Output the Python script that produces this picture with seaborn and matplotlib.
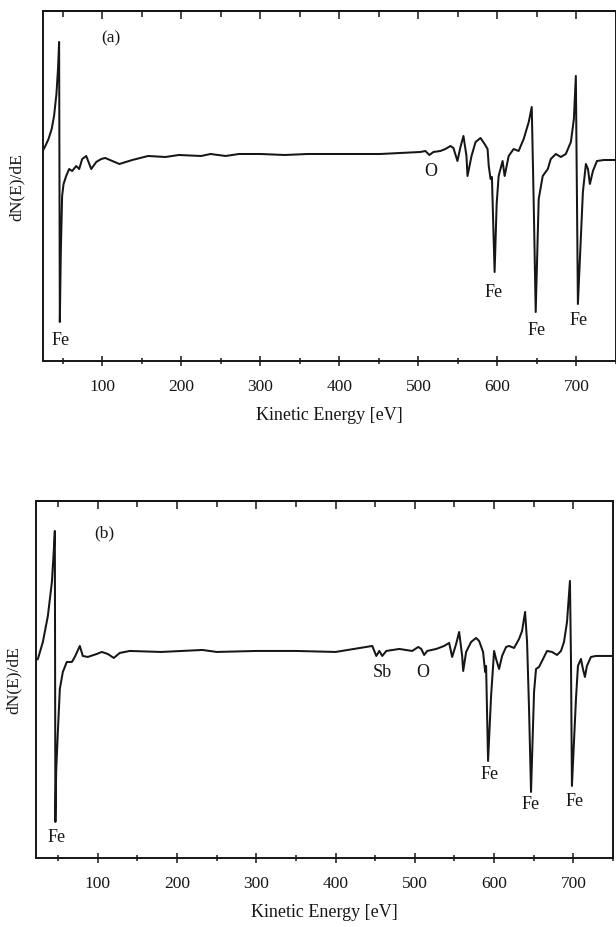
import numpy as np
import pandas as pd
import matplotlib
matplotlib.use('Agg')
import matplotlib.pyplot as plt
import seaborn as sns

# Auger spectrum (a): kinetic energy [eV] and dN(E)/dE (arbitrary units)
energy_a = [24, 28, 32, 36, 39, 42, 44, 45.4, 46.3, 47.5, 49.2, 51, 54.3, 58.1, 61.9,
            67, 70.8, 74.6, 79.7, 86, 92.4, 98.7, 103.8, 121.6, 138, 158, 180, 197,
            225, 237, 256, 273, 300, 331, 360, 400, 451.7, 477, 502.4, 508.8, 513.9,
            519, 527.8, 534.2, 540.5, 544.3, 549.4, 553.2, 557, 560.8, 562.1, 567.2,
            572.3, 578.6, 583.7, 587.5, 589, 591.3, 593, 596.4, 599, 601.5, 606.5,
            609.1, 614.2, 620.5, 626.8, 633.2, 639.6, 643.4, 645.9, 648.4, 652.2,
            657.3, 663.7, 667.5, 673.8, 680.2, 686.5, 692.9, 696.7, 699.2, 701.8,
            708.1, 711.9, 714.5, 717, 720.8, 725.9, 734.8, 750]
signal_a = [0.2, 0.8, 1.5, 2.5, 3.8, 6.0, 8.5, 11.2, -16.8, -10.0, -4.2, -3.0, -2.2, -1.5, -1.7,
            -1.2, -1.5, -0.5, -0.2, -1.5, -0.8, -0.5, -0.4, -1.0, -0.6, -0.2, -0.3, -0.1,
            -0.2, 0.0, -0.2, 0.0, 0.0, -0.1, 0.0, 0.0, 0.0, 0.1, 0.2, 0.3, -0.1,
            0.2, 0.3, 0.5, 0.8, 0.6, -0.7, 0.7, 1.8, -0.2, -2.2, -0.2,
            1.2, 1.6, 1.0, 0.5, -1.2, -2.5, -2.3, -11.8, -5.0, -2.2, -0.7,
            -2.2, -0.2, 0.5, 0.3, 1.5, 3.2, 4.7, -5.0, -15.8, -4.5,
            -2.2, -1.5, -0.5, 0.0, -0.3, 0.0, 1.2, 3.5, 7.8, -15.0,
            -3.8, -1.0, -1.5, -3.0, -1.7, -0.7, -0.6, -0.6]

# Auger spectrum (b)
energy_b = [22, 24.4, 30.7, 37.0, 42.1, 44.6, 45.8, 46.5, 47.5, 49.6, 52.1, 55.9, 60.9,
            67.3, 71.0, 77.3, 81.1, 87.4, 98.7, 105, 112.6, 120.2, 127.7, 140.3, 180,
            232, 250, 300, 350, 400, 446.3, 451.4, 455.2, 458.9, 464, 480.4, 496.7,
            504.3, 508.1, 511.8, 515.6, 527, 537, 543.3, 547.1, 552.1, 555.9, 559.7,
            561, 564.7, 571, 577.3, 581.1, 586.1, 588.7, 589.9, 592.4, 596.2, 600,
            602.5, 606.3, 610.1, 615.1, 618.9, 625.2, 631.5, 635.3, 639.1, 641.6,
            644.1, 646.6, 650.4, 652.9, 656.7, 660.5, 666.8, 673.1, 679.4, 684.4,
            688.2, 692, 695.7, 697, 698.2, 703.3, 705.8, 709.6, 712.1, 714.6, 717.1,
            722.2, 728.5, 750]
signal_b = [-0.9, -0.8, 0.9, 3.5, 6.9, 10.2, 12.0, -17.1, -12.0, -8.1, -3.8, -2.1, -1.1,
            -1.1, -0.6, 0.5, -0.5, -0.6, -0.3, -0.1, -0.3, -0.7, -0.2, 0.0, -0.1,
            0.1, -0.1, 0.0, 0.0, -0.1, 0.5, -0.5, 0.0, -0.5, 0.0, 0.2, 0.0,
            0.4, 0.2, -0.4, 0.0, 0.2, 0.5, 0.8, -0.6, 0.7, 1.9, -0.5,
            -2.0, -0.1, 0.9, 1.3, 1.0, -0.1, -2.1, -1.5, -11.0, -4.5, 0.0,
            -0.8, -1.8, -0.5, 0.4, 0.5, 0.3, 1.2, 2.0, 3.9, 0.9,
            -5.8, -14.1, -4.1, -1.8, -1.6, -1.0, 0.0, -0.1, -0.4, 0.0,
            0.9, 2.9, 7.0, -0.8, -13.5, -4.8, -1.5, -0.8, -1.8, -2.6, -1.5,
            -0.6, -0.5, -0.5]

# peak labels: (text, energy, y)
labels_a = [('Fe', 46.7, -18.5), ('O', 515, -1.7), ('Fe', 595, -13.7),
            ('Fe', 649.7, -17.5), ('Fe', 703, -16.5)]
labels_b = [('Fe', 48.4, -18.6), ('Sb', 459, -2.1), ('O', 510.6, -2.1),
            ('Fe', 593.7, -12.3), ('Fe', 646.6, -15.3), ('Fe', 701.5, -15.0)]

sns.set_theme(style='ticks')
plt.rcParams['font.family'] = ['Liberation Serif', 'DejaVu Serif']

fig = plt.figure(figsize=(6.16, 9.28), dpi=100)
ax_a = fig.add_axes([0.0698, 0.6099, 0.9302, 0.3772])
ax_b = fig.add_axes([0.0584, 0.0744, 0.9367, 0.3847])

panels = [
    (ax_a, energy_a, signal_a, labels_a, '(a)', (25, 750), (-20.7, 14.3), 111, 11.7, 13),
    (ax_b, energy_b, signal_b, labels_b, '(b)', (22, 750), (-20.7, 15.0), 108, 11.9, 10),
]

ink = '#161616'
for ax, e, s, labs, tag, xlim, ylim, tx, ty, ypad in panels:
    df = pd.DataFrame({'Kinetic Energy': e, 'dNdE': s})
    sns.lineplot(data=df, x='Kinetic Energy', y='dNdE', ax=ax, color=ink,
                 linewidth=1.45, sort=False, estimator=None)
    ax.set_xlim(*xlim)
    ax.set_ylim(*ylim)
    ax.set_yticks([])
    ax.set_xticks(np.arange(100, 701, 100))
    ax.set_xticks(np.arange(50, 751, 50), minor=True)
    ax.tick_params(axis='x', which='major', direction='inout', length=7, width=1.1,
                   labelsize=12.5, pad=8.5, colors=ink)
    ax.tick_params(axis='x', which='minor', direction='inout', length=5, width=1.1, colors=ink)
    top = ax.secondary_xaxis('top')
    top.set_xticks(np.arange(100, 701, 100))
    top.set_xticks(np.arange(50, 751, 50), minor=True)
    top.tick_params(which='major', direction='in', length=6, width=1.1, labeltop=False, colors=ink)
    top.tick_params(which='minor', direction='in', length=4, width=1.1, colors=ink)
    for sp in ax.spines.values():
        sp.set_visible(True)
        sp.set_linewidth(1.4)
        sp.set_color(ink)
    top.spines['top'].set_linewidth(1.4)
    top.spines['top'].set_color(ink)
    ax.set_xlabel('Kinetic Energy [eV]', fontsize=13, labelpad=9, color=ink)
    ax.set_ylabel('dN(E)/dE', fontsize=12.5, labelpad=ypad, color=ink)
    ax.text(tx, ty, tag, fontsize=12.5, ha='center', va='center', color=ink)
    for txt, x, y in labs:
        ax.text(x, y, txt, fontsize=13, ha='center', va='center', color=ink)

plt.savefig('out.png', dpi=100)
